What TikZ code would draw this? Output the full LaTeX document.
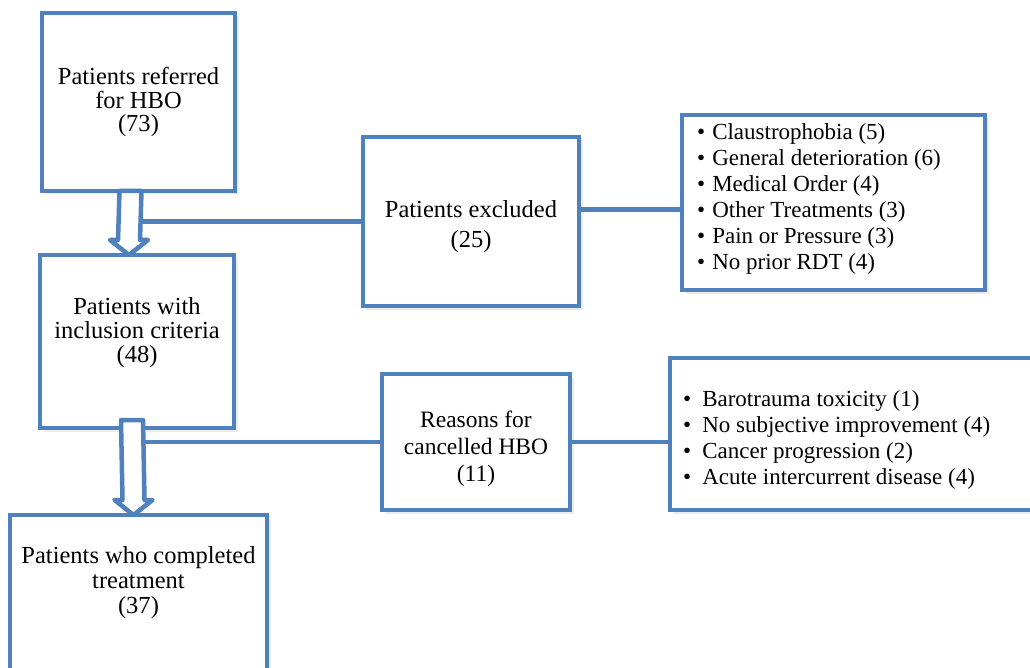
\documentclass[tikz,border=0pt]{standalone}
\usepackage{fontspec}
\setmainfont{Liberation Serif}
\usepackage{xcolor}
\definecolor{hboblue}{RGB}{79,129,189}
\usetikzlibrary{positioning,shadows}

\begin{document}
\begin{tikzpicture}[x=1pt,y=-1pt,
    box/.style={draw=hboblue,line width=4.5pt,fill=white,outer sep=0pt,align=center,
      font=\fontsize{24.5}{23.5}\selectfont,
      drop shadow={shadow xshift=3.5pt,shadow yshift=-3.5pt,opacity=.15}},
    txt/.style={inner sep=0pt,align=center,font=\fontsize{24.5}{24}\selectfont},
    lsttxt/.style={txt,align=left,anchor=west,font=\fontsize{23}{26}\selectfont},
    link/.style={draw=hboblue,line width=4.5pt},
    hollow/.style={draw=hboblue,line width=4.5pt,fill=white,line join=round}]
    \newcommand{\blockdown}[5]{% from, to, x offset, lift of the tail, name of shaft edge
      \draw[hollow] ([xshift=#3-11,yshift=#4]#1.south) -- ([xshift=#3+11,yshift=#4]#1.south)
        -- ([xshift=#3+11,yshift=15]#2.north) -- ([xshift=#3+19,yshift=15]#2.north)
        -- ([xshift=#3]#2.north) -- ([xshift=#3-19,yshift=15]#2.north)
        -- ([xshift=#3-11,yshift=15]#2.north) -- cycle;
      \coordinate (#5) at ([xshift=#3+11]#1.south);}
    \clip (0,0) rectangle (1030,668);
    \useasboundingbox (0,0) rectangle (1030,668);
    \fill[white] (0,0) rectangle (1030,668);
    % left column
    \node (refd) [box,minimum width=193,minimum height=178] at (138.5,102)
      {Patients referred\\for HBO\\(73)};
    \node (incl) [box,minimum width=194,minimum height=173] at (137,341.5) {};
    \node (incltxt) [txt] at (137,333) {Patients with\\inclusion criteria\\(48)};
    \node (done) [box,minimum width=257,minimum height=200,anchor=north] at (138.5,515) {};
    \node (donetxt) [txt,font=\fontsize{24.5}{25}\selectfont] at (138.5,583)
      {Patients who completed\\treatment\\(37)};
    % middle column
    \node (excl) [box,minimum width=216,minimum height=169] at (471,221.5) {};
    \node (excltxt) [txt] at (471,227) {Patients excluded\\[6pt](25)};
    \node (reasons) [box,minimum width=188,minimum height=136] at (476,442) {};
    \node (reasontxt) [txt,font=\fontsize{23.5}{27}\selectfont] at (476,449)
      {Reasons for\\cancelled HBO\\(11)};
    % right column
    \node (exlist) [box,minimum width=303,minimum height=175] at (833.5,202.5) {};
    \node (extxt) [lsttxt] at (697,199)
      {\textbullet\hspace{7pt}Claustrophobia (5)\\
       \textbullet\hspace{7pt}General deterioration (6)\\
       \textbullet\hspace{7pt}Medical Order (4)\\
       \textbullet\hspace{7pt}Other Treatments (3)\\
       \textbullet\hspace{7pt}Pain or Pressure (3)\\
       \textbullet\hspace{7pt}No prior RDT (4)};
    \node (canclist) [box,minimum width=396,minimum height=152] at (868,434) {};
    \node (canctxt) [lsttxt] at (683,440)
      {\textbullet\hspace{11pt}Barotrauma toxicity (1)\\
       \textbullet\hspace{11pt}No subjective improvement (4)\\
       \textbullet\hspace{11pt}Cancer progression (2)\\
       \textbullet\hspace{11pt}Acute intercurrent disease (4)};
    % arrows and links
    \blockdown{refd}{incl}{-8}{0}{a1r}
    \blockdown{incl}{done}{-5}{8}{a2r}
    \draw[link] (excl.west) -- (excl.west -| a1r);
    \draw[link] ([yshift=12]excl.east) -- ([yshift=12]excl.east -| exlist.west);
    \draw[link] (reasons.west) -- (reasons.west -| a2r);
    \draw[link] (reasons.east) -- (reasons.east -| canclist.west);
\end{tikzpicture}
\end{document}
